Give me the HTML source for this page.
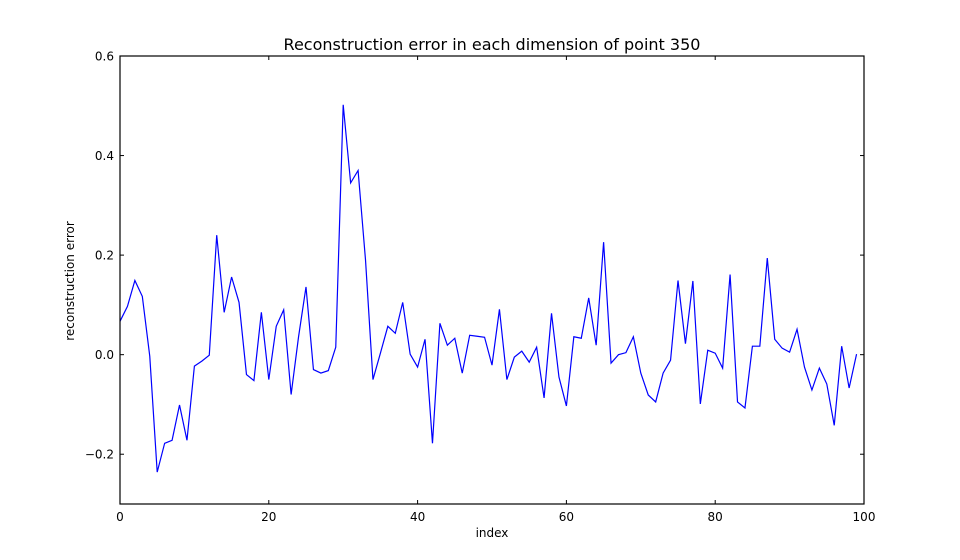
<!DOCTYPE html>
<html><head><meta charset="utf-8"><style>
html,body{margin:0;padding:0;background:#fff;}
svg{display:block;font-family:"DejaVu Sans","Liberation Sans",sans-serif;}
</style></head><body>
<svg id="chart" width="960" height="560" viewBox="0 0 960 560">
<rect width="960" height="560" fill="#fff"/>
<text x="492" y="50" text-anchor="middle" font-size="16">Reconstruction error in each dimension of point 350</text>
<g id="ticks"></g>
<polyline id="line" fill="none" stroke="#0000ff" stroke-width="1.2"/>
<rect x="120" y="56" width="744" height="448" fill="none" stroke="#000" stroke-width="1.2"/>
<text x="492" y="537" text-anchor="middle" font-size="12">index</text>
<text x="74" y="281" text-anchor="middle" font-size="12" transform="rotate(-90 74 281)">reconstruction error</text>
</svg>
<script>
const errValues=[0.067,0.097,0.149,0.117,-0.003,-0.236,-0.178,-0.172,-0.101,-0.172,
-0.023,-0.013,-0.001,0.24,0.085,0.156,0.105,-0.04,-0.052,0.085,
-0.05,0.057,0.09,-0.08,0.036,0.136,-0.03,-0.037,-0.032,0.015,
0.502,0.345,0.37,0.19,-0.05,0.003,0.057,0.043,0.105,0.001,
-0.025,0.031,-0.178,0.063,0.019,0.033,-0.037,0.039,0.037,0.035,
-0.021,0.091,-0.05,-0.005,0.007,-0.015,0.015,-0.087,0.083,-0.045,
-0.103,0.036,0.033,0.114,0.019,0.226,-0.017,0.0,0.004,0.036,
-0.037,-0.081,-0.095,-0.037,-0.011,0.149,0.022,0.148,-0.099,0.009,
0.003,-0.027,0.161,-0.095,-0.107,0.017,0.017,0.194,0.031,0.013,
0.005,0.051,-0.025,-0.071,-0.027,-0.059,-0.142,0.017,-0.067,0.001];
const xTicks=[0,20,40,60,80,100];
const yTicks=[-0.2,0.0,0.2,0.4,0.6];
const yTickLabels=["\u22120.2","0.0","0.2","0.4","0.6"];
const X0=120,X1=864,Y0=504,Y1=56,xMin=0,xMax=100,yMin=-0.3,yMax=0.6;
const xs=v=>X0+(v-xMin)/(xMax-xMin)*(X1-X0);
const ys=v=>Y0-(v-yMin)/(yMax-yMin)*(Y0-Y1);
const NS="http://www.w3.org/2000/svg";
const line=document.getElementById('line');
line.setAttribute('points',errValues.map((v,i)=>xs(i).toFixed(2)+','+ys(v).toFixed(2)).join(' '));
const g=document.getElementById('ticks');
function mk(tag,attrs){const e=document.createElementNS(NS,tag);for(const k in attrs)e.setAttribute(k,attrs[k]);g.appendChild(e);return e;}
xTicks.forEach(t=>{
 const x=xs(t);
 const a=mk('line',{x1:x,x2:x,y1:Y0,y2:Y0-4,stroke:'#000'});
 
 
 const b=mk('line',{x1:x,x2:x,y1:Y1,y2:Y1+4,stroke:'#000'});
 
 
 const l=mk('text',{x:x,y:Y0+17,'text-anchor':'middle','font-size':12});
 l.textContent=String(t);
 
 
});
yTicks.forEach((t,i)=>{
 const y=ys(t);
 const a=mk('line',{x1:X0,x2:X0+4,y1:y,y2:y,stroke:'#000'});
 
 
 const b=mk('line',{x1:X1,x2:X1-4,y1:y,y2:y,stroke:'#000'});
 
 
 const l=mk('text',{x:X0-6,y:y+4.5,'text-anchor':'end','font-size':12});
 l.textContent=yTickLabels[i];
 
 
});
</script>
</body></html>
